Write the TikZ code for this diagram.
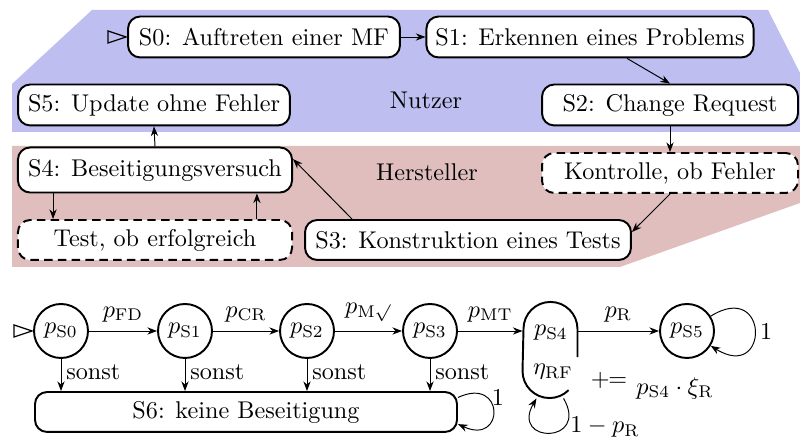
\documentclass[tikz,border=0pt]{standalone}
\usetikzlibrary{arrows.meta}
\definecolor{nutzerc}{RGB}{190,190,240}
\definecolor{herstc}{RGB}{225,190,190}
\begin{document}
\begin{tikzpicture}[x=0.413pt,y=0.413pt,
  box/.style={draw,thick,rounded corners=5pt,fill=white,inner sep=0pt,minimum height=16.9pt},
  dbox/.style={box,dash pattern=on 3.5pt off 2.2pt},
  st/.style={draw,thick,circle,minimum size=22.3pt,inner sep=0pt},
  arr/.style={-{Stealth[length=4pt,width=3pt]}},
  lbl/.style={inner sep=2pt},
  albl/.style={inner sep=3.6pt},
  initri/.style={draw,line width=0.5pt}]
\useasboundingbox (0,0) rectangle (800,437);
% regions
\fill[nutzerc] (92,427) -- (768,427) -- (800,364) -- (800,305) -- (12,305) -- (12,353) -- cycle;
\fill[herstc] (12,291) -- (800,291) -- (800,234) -- (620,170) -- (12,170) -- cycle;
\node (nutzer) at (426,337) {Nutzer};
\node (herst) at (427,265) {Hersteller};
% top nodes
\node[box,minimum width=112.3pt] (S0) at (264,400) {S0: Auftreten einer MF};
\node[box,minimum width=135.1pt] (S1) at (590,400) {S1: Erkennen eines Problems};
\node[box,minimum width=105.7pt] (S2) at (670,332) {S2: Change Request};
\node[box,minimum width=112.3pt] (S5) at (154,332) {S5: Update ohne Fehler};
\node[box,minimum width=113.2pt,minimum height=18.6pt] (S4) at (155,267) {S4: Beseitigungsversuch};
\node[dbox,minimum width=105.7pt,minimum height=16.5pt] (Kon) at (670,264) {Kontrolle, ob Fehler};
\node[dbox,minimum width=113.2pt,minimum height=16.5pt] (Test) at (155,197) {Test, ob erfolgreich};
\node[box,minimum width=134.6pt,minimum height=16.5pt] (S3) at (468,197) {S3: Konstruktion eines Tests};
\draw[initri] ([xshift=-0.4pt]S0.west) -- ++(-7.5pt,2.5pt) -- ++(0,-5pt) -- cycle;
\draw[arr] (S0) -- (S1);
\draw[arr] ([xshift=15.3pt]S1.south) -- (S2.north);
\draw[arr] (S2.south) -- (Kon.north);
\draw[arr] (Kon.south) -- ([yshift=3.3pt]S3.east);
\draw[arr] ([xshift=-47.9pt]S3.north) -- ([yshift=4.5pt]S4.east);
\draw[arr] (S4.north) -- (S5.south);
\draw[arr] ([xshift=-42.1pt]S4.south) -- ([xshift=-42.1pt]Test.north);
\draw[arr] ([xshift=42.1pt]Test.north) -- ([xshift=42.1pt]S4.south);
% bottom automaton
\node[st] (p0) at (61,106) {$p_{\mathrm{S0}}$};
\node[st] (p1) at (185,106) {$p_{\mathrm{S1}}$};
\node[st] (p2) at (307,106) {$p_{\mathrm{S2}}$};
\node[st] (p3) at (430,106) {$p_{\mathrm{S3}}$};
\node[st] (p5) at (687,106) {$p_{\mathrm{S5}}$};
\node[minimum width=22.3pt,minimum height=39.6pt,inner sep=0pt] (p4) at (550,87) {};
\node (p4t) at (551,104) {$p_{\mathrm{S4}}$};
\node (eta) at (553,65) {$\eta_{\mathrm{RF}}$};
\node (pluseq) at (609,57) {$+\!\!=$};
\node (prod) at (675,49) {$p_{\mathrm{S4}}\cdot\xi_{\mathrm{R}}$};
\draw[thick] ([yshift=-2.9pt]p4.east) -- ([yshift=8.7pt]p4.east)
  arc[start angle=0,end angle=180,radius=11.15pt] -- ([yshift=-8.7pt]p4.west)
  arc[start angle=180,end angle=315,radius=11.15pt];
\node[box,minimum width=174.3pt,minimum height=16.5pt] (S6) at (246,25) {S6: keine Beseitigung};
\draw[initri] ([xshift=-0.4pt]p0.west) -- ++(-7.5pt,2.5pt) -- ++(0,-5pt) -- cycle;
\draw[arr] (p0) -- node[above,albl] {$p_{\mathrm{FD}}$} (p1);
\draw[arr] (p1) -- node[above,albl] {$p_{\mathrm{CR}}$} (p2);
\draw[arr] (p2) -- node[above,albl] {$p_{\mathrm{M}\surd}$} (p3);
\draw[arr] (p3) -- node[above,albl] {$p_{\mathrm{MT}}$} (p3 -| p4.west);
\draw[arr] (p5 -| p4.east) -- node[above,albl] {$p_{\mathrm{R}}$} (p5);
\foreach \p in {p0,p1,p2,p3}
  \draw[arr] (\p) -- node[right,lbl,pos=0.4] {sonst} (\p |- S6.north);
\draw[arr] (p5) to[out=32,in=-32,looseness=6] node[right,lbl] (one5) {1} (p5);
\draw[arr] ([yshift=6pt]S6.east) to[out=25,in=-25,looseness=5] node[right,inner sep=1.5pt,pos=0.3] (one6) {1} ([yshift=-5pt]S6.east);
\draw[arr] ([xshift=5.6pt]p4.south) to[out=-60,in=-120,looseness=5] ([xshift=-5.6pt]p4.south);
\node (onemp) at (605,10) {$1-p_{\mathrm{R}}$};
\end{tikzpicture}
\end{document}
